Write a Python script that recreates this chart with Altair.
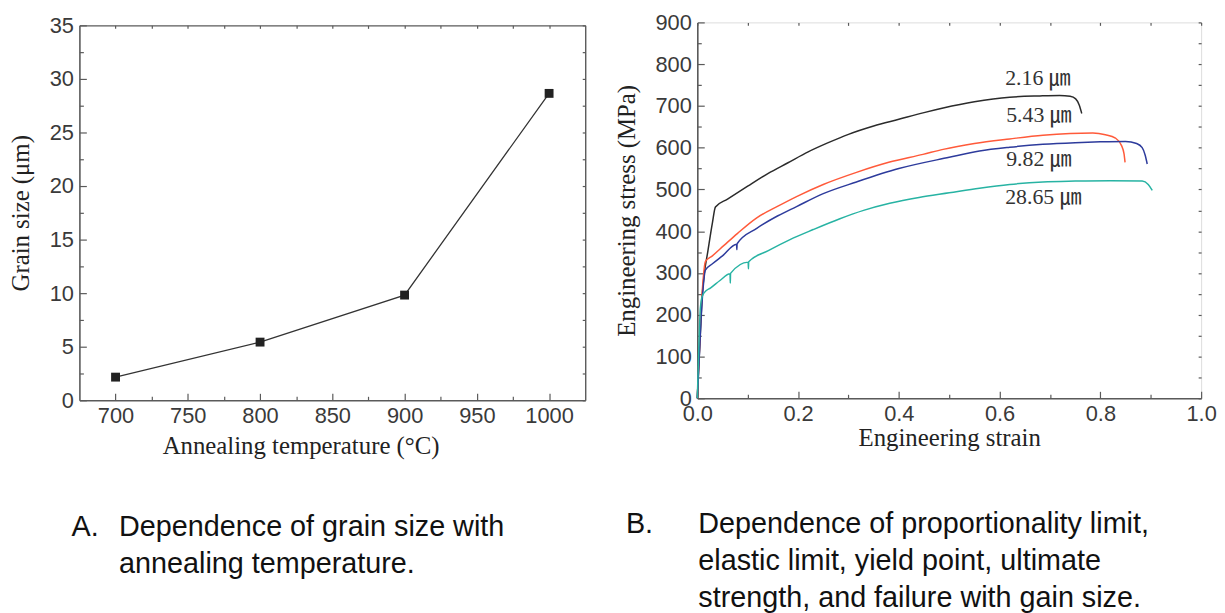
import altair as alt
import pandas as pd

# ---------------- Panel A data ----------------
anneal_temp = [700, 800, 900, 1000]
grain_size = [2.16, 5.43, 9.82, 28.65]

# ---------------- Panel B data ----------------
strain_216 = [0, 0.005, 0.01, 0.014, 0.02, 0.03, 0.036, 0.06, 0.1, 0.14, 0.18, 0.22, 0.26, 0.3,
              0.35, 0.4, 0.45, 0.488, 0.55, 0.62, 0.68, 0.719, 0.74, 0.751, 0.758, 0.763]
stress_216 = [0, 130, 250, 300, 345, 420, 458, 477, 508, 538, 564, 590, 612, 632,
              652, 668, 684, 695, 710, 721, 724, 725, 723, 717, 702, 682]

strain_543 = [0, 0.004, 0.008, 0.012, 0.016, 0.03, 0.053, 0.08, 0.118, 0.16, 0.197, 0.25, 0.316,
              0.38, 0.448, 0.488, 0.55, 0.62, 0.686, 0.74, 0.785, 0.81, 0.83, 0.842, 0.847, 0.849]
stress_543 = [0, 110, 220, 290, 327, 341, 366, 395, 432, 460, 483, 512, 541,
              565, 584, 596, 610, 621, 630, 634, 635, 631, 623, 605, 585, 565]

strain_982 = [0, 0.004, 0.008, 0.012, 0.016, 0.03, 0.05, 0.078, 0.0785, 0.079, 0.118, 0.16, 0.197,
              0.25, 0.316, 0.4, 0.5, 0.56, 0.62, 0.686, 0.75, 0.8, 0.85, 0.872, 0.883, 0.889, 0.893]
stress_982 = [0, 100, 200, 270, 307, 322, 341, 369, 356, 370, 407, 437, 459,
              490, 518, 550, 577, 592, 601, 608, 612, 614, 615, 610, 600, 582, 561]

strain_2865 = [0, 0.003, 0.006, 0.01, 0.018, 0.026, 0.045, 0.065, 0.0655, 0.066, 0.101, 0.1015,
               0.102, 0.14, 0.184, 0.23, 0.283, 0.33, 0.382, 0.44, 0.5, 0.56, 0.62, 0.686, 0.75,
               0.82, 0.883, 0.895, 0.903]
stress_2865 = [0, 120, 215, 245, 258, 264, 282, 298, 276, 299, 326, 310, 327, 353, 380, 404,
               430, 450, 467, 481, 492, 503, 512, 518, 520, 521, 520, 512, 498]

curve_names = ["2.16", "5.43", "9.82", "28.65"]
curve_colors = ["#2b2b2b", "#ff5a3a", "#2d3b9c", "#27b3a3"]
label_text = ["2.16  \u339b", "5.43  \u339b", "9.82  \u339b", "28.65  \u339b"]
label_strain = [0.611, 0.613, 0.613, 0.611]
label_stress = [767, 677, 572, 482]

# axis ticks
a_x_major = [700, 750, 800, 850, 900, 950, 1000]
a_x_minor = [725, 775, 825, 875, 925, 975]
a_y_major = [0, 5, 10, 15, 20, 25, 30, 35]
a_y_minor = [2.5, 7.5, 12.5, 17.5, 22.5, 27.5, 32.5]
b_x_major = [0.0, 0.2, 0.4, 0.6, 0.8, 1.0]
b_x_minor = [0.1, 0.3, 0.5, 0.7, 0.9]
b_y_major = [0, 100, 200, 300, 400, 500, 600, 700, 800, 900]
b_y_minor = [50, 150, 250, 350, 450, 550, 650, 750, 850]

caption_a_mark = "A."
caption_a = ["Dependence of grain size with", "annealing temperature."]
caption_b_mark = "B."
caption_b = ["Dependence of proportionality limit,", "elastic limit, yield point, ultimate",
             "strength, and failure with gain size."]

SANS = "Liberation Sans, Arial, sans-serif"
SERIF = "Liberation Serif, Times New Roman, serif"
LABEL_FONT = "Liberation Serif, 'Noto Sans CJK JP', serif"
AX = "#5a5a5a"
LAB = "#3a3a3a"

df_a = pd.DataFrame({"T": anneal_temp, "G": grain_size})

rows = []
for name, xs, ys in [("2.16", strain_216, stress_216), ("5.43", strain_543, stress_543),
                     ("9.82", strain_982, stress_982), ("28.65", strain_2865, stress_2865)]:
    for i, (xv, yv) in enumerate(zip(xs, ys)):
        rows.append({"curve": name, "strain": xv, "stress": yv, "i": i})
df_b = pd.DataFrame(rows)
df_lab = pd.DataFrame({"strain": label_strain, "stress": label_stress, "label": label_text})


def main_axis(title, values, orient, fmt, title_pad, label_pad, **kw):
    return alt.Axis(title=title, values=values, orient=orient, format=fmt, grid=False,
                    ticks=False, labelFont=SANS, labelFontSize=22, labelColor=LAB,
                    labelPadding=label_pad, labelFlush=False, titleFont=SERIF, titleFontSize=25,
                    titleFontWeight="normal", titleColor="#222222", titlePadding=title_pad,
                    domainColor=AX, domainWidth=1.6, **kw)


def tick_axis(orient, values, size, domain=False, offset=0):
    return alt.Axis(orient=orient, values=values, labels=False, domain=domain, title=None,
                    grid=False, ticks=True, tickColor=AX, tickWidth=1.2,
                    domainColor=AX, domainWidth=1.4, offset=offset,
                    tickSize=alt.ExprRef(expr=f"-{size}"))


def tick_layers(data, xf, yf, xs, ys, xmaj, xmin, ymaj, ymin, frame=False, top_offset=0):
    layers = []
    for xo, yo, xv, yv, sz in [("bottom", "left", xmaj, ymaj, 7), ("bottom", "left", xmin, ymin, 4),
                               ("top", "right", xmaj + xmin, ymaj + ymin, 3)]:
        is_top = xo == "top"
        layers.append(alt.Chart(data).mark_point(opacity=0).encode(
            x=alt.X(xf, scale=xs, axis=tick_axis(xo, xv, sz, domain=frame and is_top,
                                                 offset=top_offset if is_top else 0)),
            y=alt.Y(yf, scale=ys, axis=tick_axis(yo, yv, sz, domain=frame and is_top)),
        ))
    return layers


def caption_layer(data, mark, lines, xmark, xtext, ybase):
    m = alt.Chart(data).mark_text(text=mark, align="left", baseline="alphabetic", font=SANS,
                                  fontSize=29, color="#111111").encode(
        x=alt.value(xmark), y=alt.value(ybase))
    t = alt.Chart(data).mark_text(text=lines, align="left", baseline="alphabetic", font=SANS,
                                  fontSize=29, lineHeight=37, color="#111111").encode(
        x=alt.value(xtext), y=alt.value(ybase))
    return [m, t]


# ---------------- Panel A ----------------
A_H = 381
A_TOP = 3
xs_a = alt.Scale(domain=[675, 1025], nice=False, zero=False)
ys_a = alt.Scale(domain=[0, 35], nice=False, range=[A_H, A_TOP])

line_a = alt.Chart(df_a).mark_line(color="#333333", strokeWidth=1.3).encode(
    x=alt.X("T:Q", scale=xs_a, axis=main_axis("Annealing temperature (\u00b0C)", a_x_major,
                                               "bottom", "d", 8, 5, titleX=223,
                                               titleAlign="center")),
    y=alt.Y("G:Q", scale=ys_a, axis=main_axis("Grain size (\u03bcm)", a_y_major, "left", "d", 16, 6)),
)
pts_a = alt.Chart(df_a).mark_square(size=80, color="#222222", opacity=1).encode(
    x=alt.X("T:Q", scale=xs_a, axis=None),
    y=alt.Y("G:Q", scale=ys_a, axis=None),
)
panel_a = alt.layer(
    line_a, pts_a,
    *tick_layers(df_a, "T:Q", "G:Q", xs_a, ys_a, a_x_major, a_x_minor, a_y_major, a_y_minor,
                 frame=True, top_offset=-A_TOP),
    *caption_layer(df_a.head(1), caption_a_mark, caption_a, -8, 40, 518),
).resolve_axis(x="independent", y="independent").properties(
    width=510, height=A_H, view=alt.ViewBackground(strokeOpacity=0))

# ---------------- Panel B ----------------
xs_b = alt.Scale(domain=[0, 1], nice=False)
ys_b = alt.Scale(domain=[0, 900], nice=False)

lines_b = alt.Chart(df_b).mark_line(strokeWidth=1.5, interpolate="monotone").encode(
    x=alt.X("strain:Q", scale=xs_b, axis=main_axis("Engineering strain", b_x_major, "bottom",
                                                    ".1f", 2, 5)),
    y=alt.Y("stress:Q", scale=ys_b, axis=main_axis("Engineering stress (MPa)", b_y_major, "left",
                                                    "d", 16, 6)),
    color=alt.Color("curve:N", scale=alt.Scale(domain=curve_names, range=curve_colors),
                    legend=None),
    order="i:Q",
)
labels_b = alt.Chart(df_lab).mark_text(align="left", baseline="middle", font=LABEL_FONT,
                                       fontSize=22, color="#333333").encode(
    x=alt.X("strain:Q", scale=xs_b, axis=None),
    y=alt.Y("stress:Q", scale=ys_b, axis=None),
    text="label:N",
)
panel_b = alt.layer(
    lines_b, labels_b,
    *tick_layers(df_lab, "strain:Q", "stress:Q", xs_b, ys_b, b_x_major, b_x_minor, b_y_major,
                 b_y_minor),
    *caption_layer(df_lab.head(1), caption_b_mark, caption_b, -72, 1, 515),
).resolve_axis(x="independent", y="independent").properties(width=508, height=379)

chart = alt.hconcat(panel_a, panel_b, spacing=27).properties(
    padding={"left": 0, "top": 0, "right": 0, "bottom": 0}
).configure_view(stroke=AX, strokeWidth=1.4).configure(background="white")

chart.save("out.html", embed_options={"renderer": "svg", "actions": False})
